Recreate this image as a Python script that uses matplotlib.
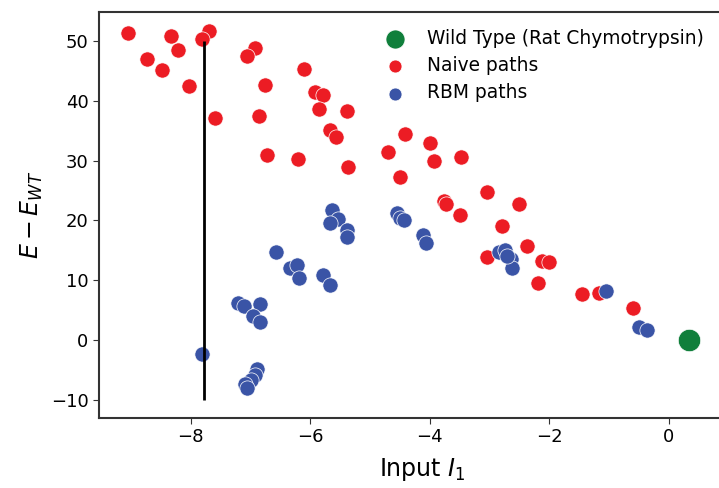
import matplotlib
matplotlib.use("Agg")
import matplotlib.pyplot as plt
import numpy as np

plt.rcParams['font.family'] = ['DejaVu Sans']

# Wild type reference point
wt_x = [0.33]
wt_y = [0.0]

# Naive mutation paths
naive_x = [-9.04, -8.33, -7.69, -7.80, -8.73, -8.21, -8.47, -8.02, -6.93, -7.05,
           -7.59, -6.75, -6.85, -6.72, -6.20, -6.10, -5.92, -5.78, -5.86, -5.38,
           -5.66, -5.56, -5.36, -4.41, -4.69, -3.99, -3.93, -3.48, -4.50, -3.04,
           -3.76, -3.72, -3.49, -2.51, -2.79, -2.37, -3.04, -2.12, -2.01, -2.19,
           -1.45, -1.17, -0.61]
naive_y = [51.4, 50.9, 51.8, 50.4, 47.0, 48.6, 45.2, 42.5, 48.9, 47.6,
           37.1, 42.6, 37.5, 31.0, 30.3, 45.4, 41.5, 41.0, 38.6, 38.4,
           35.1, 34.0, 28.9, 34.5, 31.5, 32.9, 30.0, 30.7, 27.3, 24.8,
           23.3, 22.8, 20.9, 22.8, 19.1, 15.7, 13.8, 13.2, 13.1, 9.5,
           7.7, 7.9, 5.4]

# RBM-guided paths
rbm_x = [-5.63, -5.53, -5.67, -5.39, -5.39, -4.55, -4.50, -4.43, -4.11, -4.06,
         -2.84, -2.74, -2.64, -2.62, -2.71, -1.06, -0.50, -0.37,
         -6.57, -6.34, -6.22, -6.18, -5.79, -5.66,
         -7.20, -7.11, -6.84, -6.96, -6.84, -7.80,
         -6.88, -6.93, -6.99, -7.09, -7.05]
rbm_y = [21.7, 20.3, 19.5, 18.4, 17.3, 21.2, 20.4, 20.0, 17.6, 16.2,
         14.7, 15.0, 13.5, 12.0, 14.0, 8.2, 2.1, 1.7,
         14.8, 12.0, 12.6, 10.3, 10.9, 9.2,
         6.1, 5.6, 6.0, 4.0, 3.0, -2.3,
         -4.9, -5.9, -6.7, -7.4, -8.0]

# Threshold segment in input space
thr_x = -7.78
thr_ymin, thr_ymax = -10, 50

fig = plt.figure(figsize=(7.19, 4.88), dpi=100)
ax = fig.add_axes([99/719, 70/488, (745-99)/719, (418-12)/488])

red = '#ec1c24'
blue = '#3a54a6'
green = '#107f3b'

ax.scatter(wt_x, wt_y, s=260, color=green, edgecolors='white', linewidths=0.5,
           label='Wild Type (Rat Chymotrypsin)', zorder=3)
ax.scatter(naive_x, naive_y, s=120, color=red, edgecolors='white', linewidths=0.5,
           label='Naive paths', zorder=3)
ax.scatter(rbm_x, rbm_y, s=120, color=blue, edgecolors='white', linewidths=0.5,
           label='RBM paths', zorder=3)
ax.vlines(thr_x, thr_ymin, thr_ymax, color='black', linewidth=2.0, zorder=4)

ax.set_xlim(-9.53, (745-669)/59.8)
ax.set_ylim(-13.07, 54.9)
ax.set_xticks([-8, -6, -4, -2, 0])
ax.set_yticks([-10, 0, 10, 20, 30, 40, 50])
ax.tick_params(labelsize=13, length=4, color='#333333')
for sp in ax.spines.values():
    sp.set_color('#333333')
    sp.set_linewidth(1.5)

ax.set_xlabel(r'Input $I_1$', fontsize=17, labelpad=7)
ax.set_ylabel(r'$E - E_{WT}$', fontsize=17)

ax.legend(loc='upper left', bbox_to_anchor=(0.403, 1.0), frameon=False,
          fontsize=13.4, markerscale=0.85, handletextpad=0.75, labelspacing=0.45)

fig.savefig('out.png', dpi=100)
